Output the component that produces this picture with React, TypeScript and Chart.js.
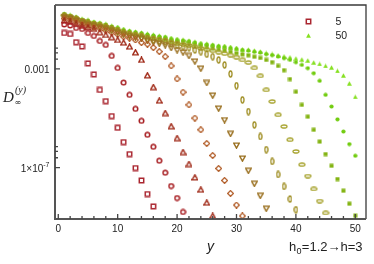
import React, { useEffect, useRef } from 'react';
import { Chart, registerables } from 'chart.js';

Chart.register(...registerables);

const positions = [1, 2, 3, 4, 5, 6, 7, 8, 9, 10, 11, 12, 13, 14, 15, 16, 17, 18, 19, 20, 21, 22, 23, 24, 25, 26, 27, 28, 29, 30, 31, 32, 33, 34, 35, 36, 37, 38, 39, 40, 41, 42, 43, 44, 45, 46, 47, 48, 49, 50];

const seriesNames = ['5', '10', '15', '20', '25', '30', '35', '40', '45', '50'];

const n5 = [2.87e-2, 2.61e-2, 1.21e-2, 8.15e-3, 1.67e-3, 5.99e-4, 1.41e-4, 4.92e-5, 1.22e-5, 4.09e-6, 1.08e-6, 3.52e-7, 9.54e-8, 3.0e-8, 8.46e-9, 2.66e-9];
const n10 = [6.33e-2, 5.77e-2, 4.57e-2, 4.16e-2, 2.87e-2, 2.17e-2, 1.36e-2, 9.37e-3, 3.36e-3, 1.1e-3, 2.79e-4, 8.86e-5, 2.4e-5, 7.85e-6, 2.13e-6, 6.95e-7, 1.89e-7, 6.16e-8, 1.78e-8, 5.82e-9, 1.58e-9];
const n15 = [9.19e-2, 8.0e-2, 6.63e-2, 5.51e-2, 4.79e-2, 4.16e-2, 3.06e-2, 2.38e-2, 1.92e-2, 1.49e-2, 1.16e-2, 8.0e-3, 4.66e-3, 2.32e-3, 5.46e-4, 1.82e-4, 5.16e-5, 1.61e-5, 4.7e-6, 1.56e-6, 4.24e-7, 1.39e-7, 3.97e-8, 1.26e-8, 3.76e-9, 1.09e-9];
const n20 = [1.11e-1, 9.46e-2, 7.92e-2, 6.39e-2, 5.61e-2, 4.79e-2, 4.28e-2, 3.62e-2, 2.98e-2, 2.52e-2, 2.01e-2, 1.75e-2, 1.49e-2, 1.16e-2, 1.0e-2, 7.28e-3, 5.02e-3, 3.15e-3, 1.32e-3, 3.94e-4, 1.14e-4, 3.49e-5, 1.01e-5, 3.39e-6, 9.46e-7, 3.09e-7, 9.19e-8, 3.0e-8, 8.94e-9, 3.03e-9, 1.09e-9];
const n25 = [1.27e-1, 1.1e-1, 9.19e-2, 7.42e-2, 6.51e-2, 5.56e-2, 4.97e-2, 4.24e-2, 3.52e-2, 3.0e-2, 2.45e-2, 2.13e-2, 1.89e-2, 1.67e-2, 1.39e-2, 1.21e-2, 1.05e-2, 9.11e-3, 7.08e-3, 5.77e-3, 4.66e-3, 3.36e-3, 2.01e-3, 1.03e-3, 2.71e-4, 8.3e-5, 2.47e-5, 8.38e-6, 2.34e-6, 7.85e-7, 2.34e-7, 7.42e-8, 2.21e-8, 7.22e-9, 2.15e-9];
const n30 = [1.4e-1, 1.21e-1, 1.02e-1, 8.3e-2, 7.28e-2, 6.28e-2, 5.61e-2, 4.83e-2, 4.01e-2, 3.46e-2, 2.84e-2, 2.47e-2, 2.21e-2, 1.99e-2, 1.7e-2, 1.52e-2, 1.36e-2, 1.24e-2, 1.03e-2, 9.03e-3, 8.07e-3, 7.28e-3, 5.88e-3, 5.02e-3, 3.94e-3, 3.15e-3, 2.32e-3, 1.45e-3, 6.28e-4, 2.09e-4, 5.56e-5, 1.87e-5, 5.4e-6, 1.82e-6, 5.36e-7, 1.77e-7, 5.25e-8, 1.72e-8, 5.3e-9, 1.96e-9];
const n35 = [1.49e-1, 1.29e-1, 1.09e-1, 8.86e-2, 7.85e-2, 6.76e-2, 6.1e-2, 5.25e-2, 4.4e-2, 3.79e-2, 3.12e-2, 2.74e-2, 2.47e-2, 2.23e-2, 1.92e-2, 1.73e-2, 1.55e-2, 1.42e-2, 1.19e-2, 1.06e-2, 9.81e-3, 9.03e-3, 7.85e-3, 6.76e-3, 5.99e-3, 5.46e-3, 4.79e-3, 4.16e-3, 3.62e-3, 3.0e-3, 2.32e-3, 1.8e-3, 1.1e-3, 5.21e-4, 1.41e-4, 4.74e-5, 1.37e-5, 4.61e-6, 1.34e-6, 4.49e-7, 1.3e-7, 4.53e-8, 1.35e-8, 4.4e-9, 1.44e-9];
const n40 = [1.56e-1, 1.36e-1, 1.15e-1, 9.46e-2, 8.3e-2, 7.15e-2, 6.51e-2, 5.61e-2, 4.7e-2, 4.09e-2, 3.36e-2, 2.95e-2, 2.66e-2, 2.4e-2, 2.11e-2, 1.9e-2, 1.72e-2, 1.59e-2, 1.35e-2, 1.22e-2, 1.14e-2, 1.06e-2, 9.28e-3, 8.0e-3, 7.35e-3, 6.76e-3, 6.05e-3, 5.56e-3, 4.97e-3, 4.36e-3, 3.9e-3, 3.59e-3, 3.12e-3, 2.79e-3, 2.32e-3, 1.87e-3, 1.32e-3, 8.86e-4, 3.86e-4, 1.19e-4, 3.49e-5, 1.16e-5, 3.39e-6, 1.13e-6, 3.52e-7, 1.18e-7, 3.42e-8, 1.15e-8, 3.42e-9, 1.12e-9];
const n45 = [1.65e-1, 1.44e-1, 1.23e-1, 1.01e-1, 9.03e-2, 7.85e-2, 7.15e-2, 6.22e-2, 5.25e-2, 4.61e-2, 3.83e-2, 3.39e-2, 3.09e-2, 2.81e-2, 2.49e-2, 2.27e-2, 2.07e-2, 1.94e-2, 1.65e-2, 1.51e-2, 1.41e-2, 1.32e-2, 1.17e-2, 1.03e-2, 9.72e-3, 9.11e-3, 8.3e-3, 7.78e-3, 7.08e-3, 6.45e-3, 5.82e-3, 5.46e-3, 4.92e-3, 4.57e-3, 3.94e-3, 3.59e-3, 3.15e-3, 2.71e-3, 2.32e-3, 1.87e-3, 1.45e-3, 1.07e-3, 6.7e-4, 3.27e-4, 8.86e-5, 2.98e-5, 9.03e-6, 2.89e-6, 8.94e-7, 3.0e-7];
const n50 = [1.77e-1, 1.54e-1, 1.31e-1, 1.08e-1, 9.63e-2, 8.38e-2, 7.63e-2, 6.63e-2, 5.61e-2, 4.92e-2, 4.09e-2, 3.62e-2, 3.3e-2, 3.0e-2, 2.66e-2, 2.42e-2, 2.21e-2, 2.07e-2, 1.77e-2, 1.61e-2, 1.52e-2, 1.42e-2, 1.26e-2, 1.11e-2, 1.05e-2, 9.81e-3, 8.94e-3, 8.38e-3, 7.63e-3, 6.95e-3, 6.33e-3, 5.99e-3, 5.46e-3, 5.11e-3, 4.44e-3, 4.05e-3, 3.59e-3, 3.27e-3, 2.98e-3, 2.66e-3, 2.42e-3, 2.21e-3, 1.83e-3, 1.59e-3, 1.32e-3, 1.15e-3, 8.3e-4, 5.46e-4, 2.59e-4, 7.35e-5];

const allSeries = [n5, n10, n15, n20, n25, n30, n35, n40, n45, n50];

const xMajorTicks = [0, 10, 20, 30, 40, 50];
const xMinorTicks = [2, 4, 6, 8, 12, 14, 16, 18, 22, 24, 26, 28, 32, 34, 36, 38, 42, 44, 46, 48];
const yMajorTicks = [1e-7, 1e-3];
const yMajorLabels = [['1\u00D710', '-7'], ['0.001', '']];
const yMinorTicks = [2.5e-7, 4.5e-7, 7e-7, 2.5e-3, 4.5e-3, 7e-3];
const legendShown = ['5', '50'];

const markerKinds = ['sq', 'circ', 'tri', 'dia', 'itri', 'vdia', 'hell', 'fsq', 'fdot', 'ftri'];
const colors = ['#aa2630', '#a82024', '#a02a18', '#b05a24', '#9a7020', '#9c8a1c', '#a8a430', '#84b414', '#72cc10', '#86e020'];

const SANS = '"Liberation Sans", Arial, "DejaVu Sans", sans-serif';

function makeMarker(kind: string, color: string): HTMLCanvasElement {
  const sizes: Record<string, number[]> = {
    sq: [7, 7], circ: [7, 7], tri: [7, 7], dia: [7, 7], itri: [7, 7],
    vdia: [5, 8], hell: [8, 5], fsq: [5, 5], fdot: [5, 5], ftri: [5, 5],
  };
  const [w, h] = sizes[kind];
  const c = document.createElement('canvas');
  c.width = w;
  c.height = h;
  const g = c.getContext('2d')!;
  g.strokeStyle = color;
  g.fillStyle = color;
  g.lineWidth = 1.5;
  g.beginPath();
  switch (kind) {
    case 'sq':
      g.rect(1.3, 1.3, 4.4, 4.4);
      g.stroke();
      break;
    case 'circ':
      g.arc(3.5, 3.5, 2.3, 0, Math.PI * 2);
      g.stroke();
      break;
    case 'tri':
      g.lineWidth = 1.4;
      g.moveTo(3.5, 0.8); g.lineTo(6.3, 5.9); g.lineTo(0.7, 5.9); g.closePath();
      g.stroke();
      break;
    case 'dia':
      g.lineWidth = 1.3;
      g.moveTo(3.5, 0.6); g.lineTo(6.4, 3.5); g.lineTo(3.5, 6.4); g.lineTo(0.6, 3.5); g.closePath();
      g.stroke();
      break;
    case 'itri':
      g.lineWidth = 1.4;
      g.moveTo(0.7, 1.1); g.lineTo(6.3, 1.1); g.lineTo(3.5, 6.2); g.closePath();
      g.stroke();
      break;
    case 'vdia':
      g.lineWidth = 1.3;
      g.ellipse(2.5, 4, 1.5, 3, 0, 0, Math.PI * 2);
      g.stroke();
      break;
    case 'hell':
      g.lineWidth = 1.3;
      g.ellipse(4, 2.5, 3, 1.5, 0, 0, Math.PI * 2);
      g.stroke();
      break;
    case 'fsq':
      g.rect(0.5, 0.5, 4, 4);
      g.fill();
      break;
    case 'fdot':
      g.arc(2.5, 2.5, 2.1, 0, Math.PI * 2);
      g.fill();
      break;
    case 'ftri':
      g.moveTo(2.5, 0.2); g.lineTo(4.9, 4.7); g.lineTo(0.1, 4.7); g.closePath();
      g.fill();
      break;
  }
  return c;
}

export default function App() {
  const ref = useRef<HTMLCanvasElement>(null);

  useEffect(() => {
    if (!ref.current) return;
    const markers = markerKinds.map((k, i) => makeMarker(k, colors[i]));

    const decor = {
      id: 'decor',
      afterDraw(chart: any) {
        const { ctx, chartArea: a, scales } = chart;
        const xs = scales.x;
        const ys = scales.y;
        ctx.save();
        // frame
        ctx.strokeStyle = '#3a3a3a';
        ctx.lineWidth = 1.3;
        ctx.beginPath();
        ctx.moveTo(a.left, a.top);
        ctx.lineTo(a.right, a.top);
        ctx.lineTo(a.right, a.bottom);
        ctx.stroke();
        ctx.strokeStyle = '#555';
        ctx.lineWidth = 2;
        ctx.beginPath();
        ctx.moveTo(a.left, a.top);
        ctx.lineTo(a.left, a.bottom);
        ctx.lineTo(a.right, a.bottom);
        ctx.stroke();
        // inward ticks
        ctx.lineWidth = 1.3;
        ctx.strokeStyle = '#444';
        ctx.beginPath();
        xMajorTicks.forEach((v) => {
          const p = xs.getPixelForValue(v);
          ctx.moveTo(p, a.bottom);
          ctx.lineTo(p, a.bottom - 5);
        });
        xMinorTicks.forEach((v) => {
          const p = xs.getPixelForValue(v);
          ctx.moveTo(p, a.bottom);
          ctx.lineTo(p, a.bottom - 3);
        });
        yMajorTicks.forEach((v) => {
          const p = ys.getPixelForValue(v);
          ctx.moveTo(a.left, p);
          ctx.lineTo(a.left + 5, p);
        });
        yMinorTicks.forEach((v) => {
          const p = ys.getPixelForValue(v);
          ctx.moveTo(a.left, p);
          ctx.lineTo(a.left + 3, p);
        });
        ctx.stroke();

        // y tick labels
        ctx.fillStyle = '#222';
        ctx.textBaseline = 'middle';
        yMajorTicks.forEach((v, i) => {
          const p = ys.getPixelForValue(v);
          const [main, sup] = yMajorLabels[i];
          if (sup) {
            ctx.font = '7px ' + SANS;
            ctx.textAlign = 'right';
            ctx.fillText(sup, 49.5, p - 2);
            const sw = ctx.measureText(sup).width;
            ctx.font = '10px ' + SANS;
            ctx.fillText(main, 49.5 - sw, p + 2);
          } else {
            ctx.font = '10px ' + SANS;
            ctx.textAlign = 'right';
            ctx.fillText(main, 49.5, p + 1);
          }
        });

        // axis titles
        ctx.textAlign = 'center';
        ctx.textBaseline = 'alphabetic';
        ctx.font = 'italic 14px ' + SANS;
        ctx.fillText('y', (a.left + a.right) / 2, 250.5);

        ctx.textAlign = 'left';
        ctx.font = 'italic 15px "Liberation Serif", "DejaVu Serif", serif';
        ctx.fillText('D', 3, 102);
        ctx.font = '8px "DejaVu Sans", sans-serif';
        ctx.fillText('\u221E', 14.5, 105);
        ctx.font = 'italic 10px "Liberation Serif", "DejaVu Serif", serif';
        ctx.fillText('(y)', 15, 93);

        // annotation h0=1.2 -> h=3
        ctx.font = '13px ' + SANS;
        let xp = 289;
        ctx.fillText('h', xp, 251);
        xp += ctx.measureText('h').width;
        ctx.font = '9px ' + SANS;
        ctx.fillText('0', xp + 0.3, 253.5);
        xp += ctx.measureText('0').width + 0.6;
        ctx.font = '13px ' + SANS;
        ctx.fillText('=1.2\u2192h=3', xp, 251);

        // legend
        legendShown.forEach((name, j) => {
          const idx = seriesNames.indexOf(name);
          const m = markers[idx];
          const cy = j === 0 ? 21.7 : 35.7;
          ctx.drawImage(m, Math.round(308 - m.width / 2), Math.round(cy - m.height / 2));
          ctx.font = '10.5px ' + SANS;
          ctx.fillStyle = '#222';
          ctx.textBaseline = 'middle';
          ctx.fillText(name, 335.5, cy + 0.5);
        });
        ctx.restore();
      },
    };

    const chart = new Chart(ref.current, {
      type: 'scatter',
      data: {
        datasets: allSeries.map((vals, i) => ({
          label: seriesNames[i],
          data: vals.map((v, k) => ({ x: positions[k], y: v })),
          pointStyle: markers[i] as any,
          pointRadius: 3,
          pointHoverRadius: 3,
          showLine: false,
          borderColor: colors[i],
          backgroundColor: colors[i],
        })),
      },
      options: {
        animation: false,
        responsive: true,
        maintainAspectRatio: false,
        events: [],
        layout: { padding: { top: 5, right: 8, left: 0, bottom: 0 } },
        plugins: { legend: { display: false }, tooltip: { enabled: false } },
        scales: {
          x: {
            type: 'linear',
            min: -0.55,
            max: 51.8,
            grid: { display: false, drawTicks: false },
            border: { display: false },
            ticks: {
              font: { family: SANS, size: 10 },
              color: '#222',
              padding: 4,
              maxRotation: 0,
              autoSkip: false,
            },
            afterBuildTicks: (s: any) => {
              s.ticks = xMajorTicks.map((v) => ({ value: v }));
            },
            afterFit: (s: any) => {
              s.height = 45;
            },
          },
          y: {
            type: 'logarithmic',
            min: 8.2e-10,
            max: 0.39,
            grid: { display: false, drawTicks: false },
            border: { display: false },
            ticks: { display: false },
            afterBuildTicks: (s: any) => {
              s.ticks = yMajorTicks.map((v) => ({ value: v }));
            },
            afterFit: (s: any) => {
              s.width = 55;
            },
          },
        },
      },
      plugins: [decor],
    });
    return () => chart.destroy();
  }, []);

  return (
    <div style={{ position: 'fixed', left: 0, top: 0, width: 374, height: 264, background: '#fff' }}>
      <canvas ref={ref} />
    </div>
  );
}
